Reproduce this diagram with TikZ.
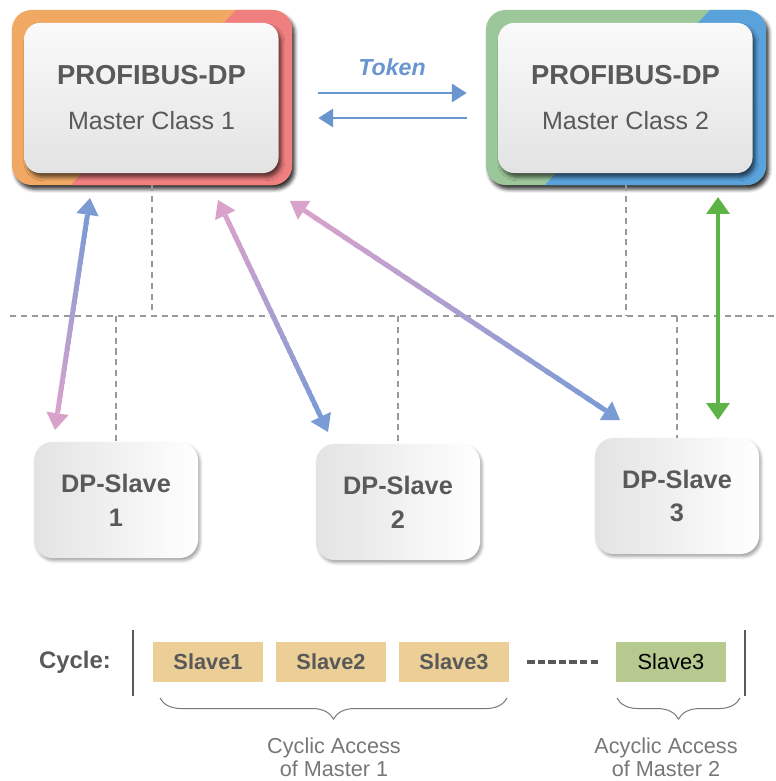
\documentclass[tikz,border=0pt]{standalone}
\usepackage{fontspec}
\setmainfont{Liberation Sans}
\usetikzlibrary{
    arrows.meta,
    positioning,
    calc,
    shadows.blur,
    decorations.pathreplacing
}

\definecolor{txtgray}{HTML}{595959}
\definecolor{notegray}{HTML}{777777}
\definecolor{m1orange}{HTML}{F0A862}
\definecolor{m1red}{HTML}{F07F80}
\definecolor{m2green}{HTML}{9CC79A}
\definecolor{m2blue}{HTML}{5AA2DC}
\definecolor{tokblue}{HTML}{6A96D0}
\definecolor{arrblue}{HTML}{7B9BD5}
\definecolor{arrpink}{HTML}{D9A2CB}
\definecolor{accgreen}{HTML}{5DB346}
\definecolor{cyctan}{HTML}{EBCF96}
\definecolor{cycgreen}{HTML}{B6C98F}
\definecolor{dashgray}{HTML}{999999}

% double arrow with a colour run: from, to, colour at from, colour at to
\newcommand{\gradarrow}[4]{%
    \coordinate (ga-s) at ($(#1)!12pt!(#2)$);
    \coordinate (ga-e) at ($(#2)!12pt!(#1)$);
    \foreach \k in {0,...,29}{
        \pgfmathtruncatemacro{\kc}{100*\k/29}
        \pgfmathsetmacro{\ka}{\k/30}
        \pgfmathsetmacro{\kb}{min(1,(\k+1.5)/30)}
        \draw[line width=3.5pt, #4!\kc!#3] ($(ga-s)!\ka!(ga-e)$) -- ($(ga-s)!\kb!(ga-e)$);
    }
    \fill[#3] (#1) -- ($(ga-s)!8pt!90:(#1)$) -- ($(ga-s)!8pt!-90:(#1)$) -- cycle;
    \fill[#4] (#2) -- ($(ga-e)!8pt!90:(#2)$) -- ($(ga-e)!8pt!-90:(#2)$) -- cycle;
}

\begin{document}
\begin{tikzpicture}[
    x=0.025cm, y=-0.025cm,
    mframe/.style 2 args={
        rectangle,
        rounded corners=14pt,
        minimum width=7cm,
        minimum height=4.375cm,
        fill=#1,
        path picture={
            \fill[#2, sharp corners] ($(path picture bounding box.north west)!0.8!(path picture bounding box.north east)$)
                -- (path picture bounding box.north east)
                -- (path picture bounding box.south east)
                -- ($(path picture bounding box.south west)!0.21!(path picture bounding box.south east)$)
                -- cycle;
        },
        blur shadow={shadow xshift=2pt, shadow yshift=-3pt, shadow blur radius=2.5pt, shadow opacity=80}
    },
    mbox/.style={
        rectangle,
        rounded corners=11pt,
        minimum width=6.35cm,
        minimum height=3.75cm,
        top color=gray!4,
        bottom color=gray!22,
        align=center,
        text=txtgray,
        font=\fontsize{17.8}{21}\selectfont,
        blur shadow={shadow xshift=2pt, shadow yshift=-3pt, shadow blur radius=2.5pt, shadow opacity=60}
    },
    slave/.style={
        rectangle,
        rounded corners=13pt,
        minimum width=4.1cm,
        minimum height=2.9cm,
        left color=gray!22,
        right color=white,
        align=center,
        text=txtgray,
        font=\bfseries\fontsize{18}{21}\selectfont,
        blur shadow={shadow xshift=1.5pt, shadow yshift=-2pt, shadow blur radius=2pt, shadow opacity=35}
    },
    cyc/.style={
        rectangle,
        minimum width=2.75cm,
        minimum height=1cm,
        fill=cyctan,
        text=txtgray,
        font=\bfseries\fontsize{15.5}{18}\selectfont
    },
    note/.style={align=center, text=notegray, font=\fontsize{15.4}{16.5}\selectfont},
    bus/.style={dashgray, line width=1.4pt, dash pattern=on 4.3pt off 3.4pt},
    tokarrow/.style={tokblue, line width=1.5pt, -{Triangle[length=10.5pt, width=13pt]}},
    acyarrow/.style={accgreen, line width=3.5pt, {Triangle[length=12pt, width=16pt]}-{Triangle[length=12pt, width=16pt]}},
    bracket/.style={notegray, line width=0.7pt, decorate, decoration={brace, amplitude=15pt}}
]
\useasboundingbox (0,0) rectangle (775,781);

% Masters
\node[mframe={m1orange}{m1red}] (m1frame) at (152,97.5) {};
\node[mbox] (m1) at (151.5,98) {{\bfseries\fontsize{19.5}{23}\selectfont PROFIBUS-DP}\\[11pt]Master Class 1};
\node[mframe={m2green}{m2blue}] (m2frame) at (626,97.5) {};
\node[mbox] (m2) at (625.5,98) {{\bfseries\fontsize{19.5}{23}\selectfont PROFIBUS-DP}\\[11pt]Master Class 2};

% Token
\node[tokblue, font=\bfseries\itshape\fontsize{16.5}{20}\selectfont] (token) at (392,67) {Token};
\draw[tokarrow, shorten <=0.65cm, shorten >=0.475cm] ($(m1frame.east)+(0,-4.5)$) -- ($(m2frame.west)+(0,-4.5)$);
\draw[tokarrow, shorten <=0.475cm, shorten >=0.65cm] ($(m2frame.west)+(0,20.5)$) -- ($(m1frame.east)+(0,20.5)$);

% Slaves
\node[slave] (s1) at (116,500) {DP-Slave\\[3pt]1};
\node[slave] (s2) at (398,502) {DP-Slave\\[3pt]2};
\node[slave] (s3) at (677,496) {DP-Slave\\[3pt]3};

% Bus lines
\coordinate (busL) at (10,316);
\coordinate (busR) at (775,316);
\draw[bus] (busL) -- (busR);
\draw[bus] (m1frame.south) -- (m1frame.south |- busL);
\draw[bus] (m2frame.south) -- (m2frame.south |- busL);
\draw[bus] (s1.north |- busL) -- (s1.north);
\draw[bus] (s2.north |- busL) -- (s2.north);
\draw[bus] (s3.north |- busL) -- (s3.north);

% Access arrows
\coordinate (a1top) at (90,198);
\coordinate (a1bot) at (55,430);
\coordinate (a2top) at (218,200);
\coordinate (a2bot) at (328,432);
\coordinate (a3top) at (290,201);
\coordinate (a3bot) at (620,420);
\coordinate (a4top) at (718,197);
\coordinate (a4bot) at (718,420);
\gradarrow{a1top}{a1bot}{arrblue}{arrpink}
\gradarrow{a2top}{a2bot}{arrpink}{arrblue}
\gradarrow{a3top}{a3bot}{arrpink}{arrblue}
\draw[acyarrow] (a4top) -- (a4bot);

% Cycle
\node[text=txtgray, font=\bfseries\fontsize{17}{20}\selectfont] (cycle) at (75,662) {Cycle:};
\draw[txtgray, line width=1.4pt] (133,630) -- (133,696);
\draw[txtgray, line width=1.4pt] (745,630) -- (745,696);
\node[cyc] (c1) at (208,662) {Slave1};
\node[cyc] (c2) at (331,662) {Slave2};
\node[cyc] (c3) at (454,662) {Slave3};
\node[cyc, fill=cycgreen, text=black, font=\fontsize{15.5}{18}\selectfont] (c4) at (671,662) {Slave3};
\draw[txtgray, line width=2.2pt, dash pattern=on 5.3pt off 2.2pt, shorten <=0.45cm, shorten >=0.45cm] (c3) -- (c4);

% Braces
\coordinate (b1r) at (507,698);
\coordinate (b1l) at (160,698);
\coordinate (b2r) at (740,698);
\coordinate (b2l) at (617,698);
\draw[bracket] (b1r) -- (b1l);
\draw[bracket] (b2r) -- (b2l);
\node[note] (cyclic) at (334,757) {Cyclic Access\\of Master 1};
\node[note] (acyclic) at (666,757) {Acyclic Access\\of Master 2};

\end{tikzpicture}
\end{document}
